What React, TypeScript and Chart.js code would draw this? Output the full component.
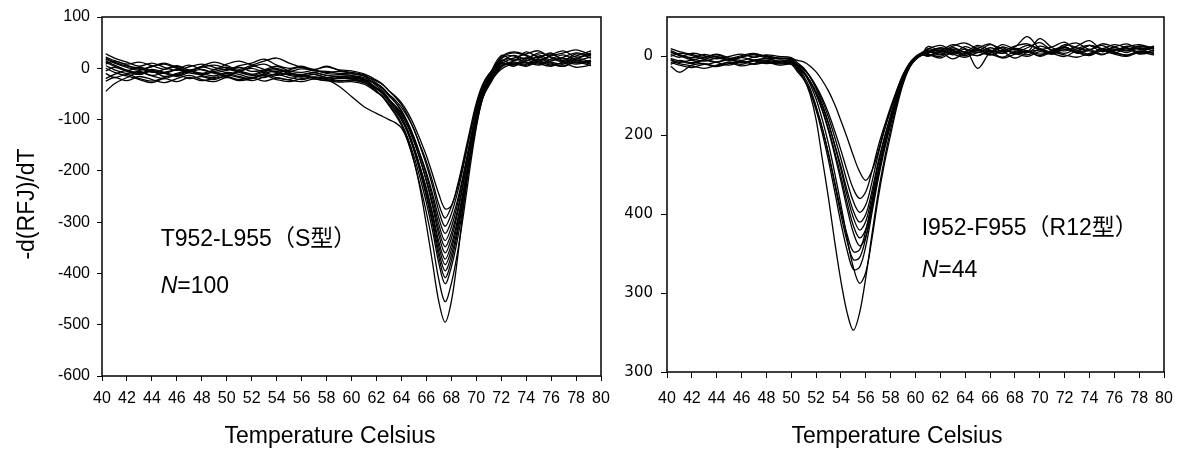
import React, { useEffect, useRef } from 'react';
import { Chart, registerables } from 'chart.js';

Chart.register(...registerables);

// ---------- shared ----------
const X_TICKS = [40, 42, 44, 46, 48, 50, 52, 54, 56, 58, 60, 62, 64, 66, 68, 70, 72, 74, 76, 78, 80];

// ---------- left panel (T952-L955, S型, N=100) ----------
const LEFT_Y_TICKS = [-600, -500, -400, -300, -200, -100, 0, 100];
const LEFT_X = [40.3, 41, 42, 43, 44, 45, 46, 47, 48, 49, 50, 51, 52, 53, 54, 55, 56, 57, 58, 59, 60, 61, 62,
  62.5, 63, 63.5, 64, 64.5, 65, 65.5, 66, 66.5, 67, 67.5, 68, 68.5, 69, 69.5, 70, 70.5, 71,
  72, 73, 74, 75, 76, 77, 78, 79.2];

const L01 = [22, 15, 8, 12, 5, -2, 4, -3, 2, 6, 0, -5, 3, 8, -2, -6, -1, -4, -8, -6, -10, -15,
  -25, -32, -44, -54, -67, -86, -110, -139, -170, -207, -245, -274, -268, -228, -175, -120, -68, -32, -12,
  12, 25, 18, 30, 22, 15, 28, 20];
const L02 = [5, -3, -10, -6, -14, -8, -3, -9, -12, -6, -2, -8, -14, -7, -3, -10, -12, -8, -14, -16, -15, -21,
  -31, -39, -51, -62, -76, -95, -119, -150, -182, -221, -265, -292, -270, -232, -182, -128, -78, -43, -23,
  5, 12, 8, 18, 10, 4, 14, 8];
const L03 = [28, 20, 12, 4, 10, 2, -4, 3, 8, 2, -3, 5, 10, 18, 6, 0, 4, -2, 3, -3, -5, -11,
  -23, -31, -44, -56, -71, -92, -119, -152, -188, -230, -278, -308, -284, -242, -188, -128, -74, -35, -14,
  20, 30, 24, 14, 26, 34, 22, 28];
const L04 = [-10, -18, -12, -20, -25, -18, -12, -20, -16, -22, -14, -18, -24, -17, -12, -18, -22, -17, -20, -24, -23, -28,
  -40, -48, -61, -73, -87, -108, -135, -168, -203, -245, -292, -322, -298, -257, -203, -144, -90, -52, -31,
  -2, 8, 4, 12, 6, 10, 2, 6];
const L05 = [12, 4, -4, 2, -6, -10, -2, 6, -3, -8, -4, 2, -6, -3, 4, -5, -8, -4, -10, -12, -14, -18,
  -31, -40, -54, -66, -82, -105, -134, -169, -208, -253, -304, -336, -310, -265, -208, -143, -86, -44, -21,
  15, 8, 20, 26, 16, 22, 30, 24];
const L06 = [-45, -30, -18, -8, -15, -20, -12, -6, -14, -18, -10, -16, -20, -12, -18, -22, -14, -20, -24, -18, -21, -25,
  -39, -47, -61, -74, -90, -113, -143, -178, -218, -263, -315, -348, -322, -276, -218, -152, -94, -51, -29,
  8, 18, 12, 6, 14, 20, 10, 16];
const L07 = [18, 10, 2, -4, 3, 8, 0, -6, 4, 12, 5, -2, 6, 14, 20, 10, 2, -3, 4, -4, -8, -13,
  -29, -38, -52, -66, -84, -108, -140, -178, -220, -269, -325, -360, -332, -283, -220, -150, -87, -42, -17,
  25, 15, 32, 22, 28, 18, 24, 34];
const L08 = [0, -8, -15, -22, -28, -20, -26, -18, -24, -20, -16, -22, -18, -25, -19, -23, -26, -21, -24, -27, -26, -31,
  -46, -55, -69, -83, -100, -124, -155, -193, -234, -283, -338, -372, -344, -296, -234, -166, -104, -59, -35,
  2, 10, 6, 14, 8, 4, 12, 5];
const L09 = [20, 12, 4, 0, -8, -2, 5, -4, -10, -3, 2, -6, -12, -5, 0, -8, -13, -9, -14, -16, -17, -21,
  -38, -47, -62, -76, -95, -120, -153, -193, -237, -288, -347, -383, -354, -303, -237, -164, -98, -51, -25,
  18, 24, 10, 20, 30, 14, 20, 12];
const L10 = [-20, -12, -4, -10, -2, -8, -14, -6, -10, -15, -8, -12, -18, -10, -6, -14, -17, -12, -18, -20, -19, -23,
  -40, -50, -65, -80, -99, -125, -159, -200, -245, -298, -358, -395, -365, -313, -245, -170, -103, -54, -28,
  10, 4, 16, 8, 18, 26, 16, 22];
const L11 = [8, 14, 6, -2, 4, 10, 2, -5, 3, -2, 8, 14, 6, -2, -8, -3, 2, -5, -6, -10, -11, -15,
  -34, -44, -60, -75, -95, -123, -159, -202, -250, -305, -368, -408, -376, -321, -250, -170, -99, -48, -20,
  22, 32, 26, 16, 24, 30, 36, 26];
const L12 = [-25, -18, -24, -16, -22, -28, -20, -14, -22, -26, -18, -24, -20, -14, -22, -26, -20, -18, -22, -25, -23, -27,
  -46, -56, -72, -87, -107, -135, -171, -214, -262, -317, -380, -420, -388, -333, -262, -182, -111, -60, -32,
  4, 14, 20, 10, 4, 12, 8, 14];
const L13 = [15, 6, -4, -12, -6, -16, -10, -4, -12, -8, -14, -6, 0, -8, -14, -10, -16, -12, -18, -16, -19, -23,
  -44, -55, -72, -90, -111, -142, -181, -229, -281, -342, -412, -455, -420, -359, -281, -194, -116, -59, -29,
  14, 20, 28, 34, 20, 12, 18, 30];
const L14 = [-5, 2, -6, -12, -4, -10, -16, -8, -2, -10, -14, -6, -12, -18, -10, -12, -15, -18, -22, -35, -55, -75,
  -88, -94, -100, -106, -116, -140, -180, -235, -305, -380, -455, -495, -455, -370, -265, -170, -90, -38, -12,
  10, 6, 14, 22, 12, 8, 16, 10];
const LEFT_SERIES = [L01, L02, L03, L04, L05, L06, L07, L08, L09, L10, L11, L12, L13, L14];

// ---------- right panel (I952-F955, R12型, N=44) ----------
const RIGHT_Y_TICKS = [-800, -600, -400, -200, 0];
const RIGHT_Y_TICK_LABELS = ['300', '300', '400', '200', '0'];
const RIGHT_X = [40.3, 41, 42, 43, 44, 45, 46, 47, 48, 49, 50,
  50.5, 51, 51.5, 52, 52.5, 53, 53.5, 54, 54.5, 55, 55.5, 56, 56.5, 57, 57.5, 58, 58.5, 59, 59.5, 60, 60.5,
  61, 62, 63, 64, 65, 66, 67, 68, 69, 70, 71, 72, 73, 74, 75, 76, 77, 78, 79.2];

const R01 = [10, 4, -3, 5, -2, -8, -1, 6, 0, -4, -5,
  -10, -14, -24, -39, -61, -88, -122, -163, -206, -252, -292, -314, -290, -240, -183, -135, -90, -52, -22, -5, 4,
  12, 20, 8, 25, 14, 30, 18, 10, 22, 35, 16, 24, 12, 28, 20, 14, 26, 18, 22];
const R02 = [-5, -12, -18, -10, -15, -8, -14, -10, -6, -12, -12,
  -22, -33, -50, -75, -106, -144, -189, -238, -290, -336, -360, -343, -290, -228, -176, -128, -85, -48, -20, -4, 6,
  5, -4, 10, 2, 15, 6, -2, 12, 4, 18, 8, 0, 14, 6, 20, 10, 4, 12, 8];
const R03 = [20, 12, 5, -2, 4, -5, 2, 8, -1, -6, -8,
  -20, -31, -51, -78, -112, -155, -205, -260, -318, -368, -395, -376, -318, -248, -188, -135, -86, -45, -18, -2, 8,
  18, 28, 15, 6, 20, 32, 12, 24, 50, 20, 10, 26, 34, 18, 28, 14, 24, 30, 20];
const R04 = [-15, -22, -28, -20, -26, -18, -12, -20, -15, -19, -18,
  -30, -42, -62, -90, -127, -171, -223, -279, -340, -392, -420, -400, -340, -267, -205, -150, -98, -55, -24, -6, 5,
  0, 10, -6, 8, 2, 12, -4, 6, 14, 0, 10, 4, -2, 8, 16, 6, 0, 10, 4];
const R05 = [5, -2, 8, 2, -6, 0, 6, -2, 4, 0, -3,
  -16, -29, -51, -82, -121, -169, -226, -287, -353, -409, -440, -418, -353, -274, -208, -150, -96, -50, -18, 0, 10,
  15, 6, 22, 12, 28, 16, 8, 20, 12, 45, 22, 14, 26, 40, 18, 24, 32, 20, 26];
const R06 = [-25, -40, -22, -18, -24, -14, -20, -12, -18, -13, -15,
  -28, -42, -64, -95, -135, -184, -242, -304, -371, -429, -460, -438, -371, -291, -224, -164, -108, -60, -28, -8, 4,
  8, 16, 4, 18, -30, 10, 22, 6, 14, 2, 16, 24, 8, 14, 4, 18, 10, 22, 14];
const R07 = [15, 5, -6, -12, -4, -10, -3, -9, -5, -12, -10,
  -24, -38, -62, -95, -137, -189, -250, -316, -386, -447, -480, -457, -386, -301, -229, -166, -108, -58, -24, -4, 6,
  20, 12, 26, 34, 18, 8, 24, 16, 28, 20, 12, 30, 22, 16, 32, 24, 14, 26, 18];
const R08 = [-10, -18, -24, -30, -22, -16, -24, -18, -14, -22, -20,
  -39, -58, -87, -130, -183, -246, -318, -390, -452, -495, -490, -442, -366, -289, -222, -162, -108, -62, -28, -8, 3,
  2, 12, 6, -2, 10, 4, 16, 8, 0, 12, 6, 18, 10, 2, 14, 8, 20, 6, 12];
const R09 = [0, 8, 2, -6, 0, -8, -2, 4, -4, -6, -8,
  -28, -49, -80, -126, -182, -249, -325, -402, -469, -515, -510, -459, -377, -295, -222, -160, -102, -54, -22, -4, 6,
  10, 22, 14, 6, 24, 12, 30, 18, 10, 26, 16, 8, 20, 28, 12, 22, 16, 26, 20];
const R10 = [-20, -10, -16, -8, -15, -22, -12, -18, -10, -15, -14,
  -35, -56, -88, -136, -195, -264, -343, -423, -492, -540, -534, -481, -396, -311, -237, -172, -112, -62, -28, -8, 4,
  6, 0, 14, 8, 20, 4, 12, -4, 10, 16, 6, 22, 12, 4, 18, 10, 2, 14, 8];
const R11 = [12, 2, -8, -2, 6, -4, -10, -2, 2, -5, -6,
  -23, -40, -69, -108, -160, -222, -296, -376, -461, -535, -575, -547, -461, -359, -272, -198, -128, -70, -30, -6, 5,
  25, 16, 30, 20, 10, 22, 14, 26, 32, 18, 24, 36, 16, 28, 20, 30, 22, 12, 24];
const R12 = [-8, -15, -10, -20, -14, -8, -16, -10, -12, -17, -15,
  -30, -55, -95, -160, -260, -360, -470, -570, -650, -694, -650, -560, -450, -345, -260, -185, -120, -65, -22, -5, 4,
  12, 4, 18, 10, 2, 16, 8, 20, 14, 6, 12, 24, 10, 18, 6, 14, 22, 8, 16];
const RIGHT_SERIES = [R01, R02, R03, R04, R05, R06, R07, R08, R09, R10, R11, R12];

// ---------- texts ----------
const Y_TITLE = '-d(RFJ)/dT';
const X_TITLE = 'Temperature Celsius';
const LEFT_LABEL = 'T952-L955（S型）';
const LEFT_N = '=100';
const RIGHT_LABEL = 'I952-F955（R12型）';
const RIGHT_N = '=44';

const SANS = '"Liberation Sans", Arial, "Noto Sans CJK JP", sans-serif';
const VERD = '"DejaVu Sans", Verdana, sans-serif';

const framePlugin = {
  id: 'panelText',
  afterDraw(chart: any, _args: any, opts: any) {
    const { ctx, chartArea: a, scales } = chart;
    ctx.save();
    ctx.strokeStyle = '#000';
    ctx.lineWidth = 1.5;
    ctx.strokeRect(a.left, a.top, a.right - a.left, a.bottom - a.top);
    ctx.fillStyle = '#000';
    ctx.textBaseline = 'middle';
    const x0 = scales.x.getPixelForValue(opts.noteX);
    ctx.textAlign = 'left';
    ctx.font = `23px ${SANS}`;
    ctx.fillText(opts.label, x0, scales.y.getPixelForValue(opts.labelY));
    const yN = scales.y.getPixelForValue(opts.nY);
    ctx.font = `italic 23px ${SANS}`;
    ctx.fillText('N', x0, yN);
    const w = ctx.measureText('N').width;
    ctx.font = `23px ${SANS}`;
    ctx.fillText(opts.nText, x0 + w, yN);
    ctx.textAlign = 'center';
    ctx.fillText(X_TITLE, opts.xTitleX, opts.xTitleY);
    if (opts.yTitle) {
      ctx.translate(opts.yTitleX, opts.yTitleY);
      ctx.rotate(-Math.PI / 2);
      ctx.fillText(opts.yTitle, 0, 0);
    }
    ctx.restore();
  },
};

function buildConfig(spec: any) {
  const gridOpts = {
    display: true,
    drawOnChartArea: false,
    drawTicks: true,
    tickLength: spec.tickLen,
    color: '#000',
    lineWidth: 1,
  };
  return {
    type: 'line',
    data: {
      datasets: spec.series.map((ys: number[]) => ({
        data: ys.map((y, j) => ({ x: spec.xs[j], y })),
        borderColor: '#000',
        borderWidth: 1.3,
        pointRadius: 0,
        tension: 0.35,
        fill: false,
      })),
    },
    options: {
      animation: false,
      responsive: false,
      events: [],
      layout: { padding: { left: 0, top: spec.padTop, right: spec.padRight, bottom: 0 } },
      plugins: {
        legend: { display: false },
        tooltip: { enabled: false },
        panelText: spec.text,
      },
      scales: {
        x: {
          type: 'linear',
          min: 40,
          max: 80,
          afterBuildTicks: (s: any) => { s.ticks = X_TICKS.map((v) => ({ value: v })); },
          afterFit: (s: any) => { s.height = spec.xAxisHeight; },
          ticks: { autoSkip: false, maxRotation: 0, minRotation: 0, padding: spec.xPad, color: '#000', font: { family: SANS, size: 16 } },
          grid: gridOpts,
          border: { display: false },
        },
        y: {
          type: 'linear',
          min: spec.yMin,
          max: spec.yMax,
          afterBuildTicks: (s: any) => { s.ticks = spec.yTicks.map((v: number) => ({ value: v })); },
          afterFit: (s: any) => { s.width = spec.yAxisWidth; },
          ticks: {
            padding: spec.yPad,
            color: '#000',
            font: spec.yFont,
            callback: spec.yLabel,
          },
          grid: gridOpts,
          border: { display: false },
        },
      },
    },
    plugins: [framePlugin],
  };
}

const LEFT_SPEC = {
  xs: LEFT_X,
  series: LEFT_SERIES,
  yMin: -600,
  yMax: 100,
  yTicks: LEFT_Y_TICKS,
  yLabel: (v: number) => String(v),
  yFont: { family: SANS, size: 16 },
  yPad: 7,
  xPad: 8,
  tickLen: 5,
  padTop: 17,
  padRight: 19,
  yAxisWidth: 102,
  xAxisHeight: 78,
  text: {
    label: LEFT_LABEL, nText: LEFT_N, noteX: 44.7, labelY: -335, nY: -426,
    xTitleX: 330, xTitleY: 437, yTitle: Y_TITLE, yTitleX: 28, yTitleY: 204,
  },
};

const RIGHT_SPEC = {
  xs: RIGHT_X,
  series: RIGHT_SERIES,
  yMin: -800,
  yMax: 100,
  yTicks: RIGHT_Y_TICKS,
  yLabel: (v: number) => RIGHT_Y_TICK_LABELS[RIGHT_Y_TICKS.indexOf(v)],
  yFont: { family: VERD, size: 15 },
  yPad: 8,
  xPad: 11,
  tickLen: 6,
  padTop: 16,
  padRight: 21,
  yAxisWidth: 47,
  xAxisHeight: 82,
  text: {
    label: RIGHT_LABEL, nText: RIGHT_N, noteX: 60.5, labelY: -437, nY: -543,
    xTitleX: 277, xTitleY: 437, yTitle: '', yTitleX: 0, yTitleY: 0,
  },
};

function Panel({ spec, left, width, height }: any) {
  const ref = useRef<HTMLCanvasElement>(null);
  useEffect(() => {
    const chart = new Chart(ref.current as HTMLCanvasElement, buildConfig(spec) as any);
    return () => chart.destroy();
  }, [spec]);
  return (
    <canvas
      ref={ref}
      width={width}
      height={height}
      style={{ position: 'absolute', left, top: 0, width, height, display: 'block' }}
    />
  );
}

export default function App() {
  return (
    <div style={{ position: 'absolute', left: 0, top: 0, width: 1185, height: 454, background: '#fff', overflow: 'hidden' }}>
      <Panel spec={LEFT_SPEC} left={0} width={620} height={454} />
      <Panel spec={RIGHT_SPEC} left={620} width={565} height={454} />
    </div>
  );
}
